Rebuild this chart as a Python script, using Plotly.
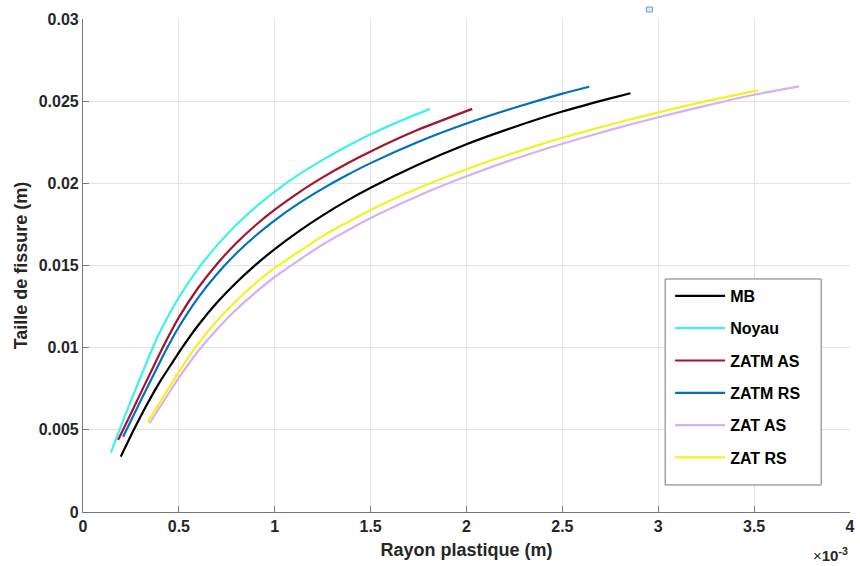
import plotly.graph_objects as go

# Rayon plastique in units of 1e-3 m, taille de fissure in m
mb_x = [0.197, 0.265, 0.33, 0.40, 0.455, 0.511, 0.60, 0.70, 0.80, 0.90, 1.00,
        1.125, 1.25, 1.375, 1.50, 1.75, 2.00, 2.25, 2.50, 2.75, 2.855]
mb_y = [0.00337, 0.0050, 0.00646, 0.0079, 0.0089, 0.0099, 0.01135, 0.01276,
        0.01397, 0.01504, 0.0160, 0.01708, 0.01805, 0.01893, 0.01973, 0.02115,
        0.02238, 0.02343, 0.02437, 0.02517, 0.02548]

noyau_x = [0.145, 0.20, 0.25, 0.30, 0.363, 0.40, 0.50, 0.60, 0.70, 0.80, 0.90,
           1.00, 1.125, 1.25, 1.375, 1.50, 1.65, 1.81]
noyau_y = [0.00361, 0.00529, 0.00677, 0.0082, 0.00998, 0.01092, 0.01306, 0.01479,
           0.01624, 0.01748, 0.01855, 0.0195, 0.02053, 0.02143, 0.02224, 0.02298,
           0.02377, 0.02453]

zatm_as_x = [0.183, 0.25, 0.30, 0.35, 0.409, 0.50, 0.60, 0.70, 0.80, 0.90, 1.00,
             1.125, 1.25, 1.375, 1.50, 1.75, 2.03]
zatm_as_y = [0.00438, 0.0060, 0.00722, 0.00843, 0.00985, 0.01184, 0.01363, 0.01511,
             0.01637, 0.01745, 0.0184, 0.01944, 0.02036, 0.02119, 0.02194, 0.02327,
             0.02453]

zatm_rs_x = [0.209, 0.26, 0.31, 0.37, 0.44, 0.50, 0.60, 0.70, 0.80, 0.90, 1.00,
             1.125, 1.25, 1.375, 1.50, 1.75, 2.00, 2.25, 2.50, 2.64]
zatm_rs_y = [0.00458, 0.0058, 0.00699, 0.0084, 0.01001, 0.01126, 0.01303, 0.0145,
             0.01574, 0.01681, 0.01775, 0.01878, 0.01968, 0.02049, 0.02123, 0.02253,
             0.02364, 0.0246, 0.02546, 0.02588]

zat_as_x = [0.347, 0.40, 0.45, 0.50, 0.60, 0.70, 0.80, 0.90, 1.00, 1.25, 1.50,
            1.75, 2.00, 2.25, 2.50, 2.75, 3.00, 3.25, 3.50, 3.735]
zat_as_y = [0.0054, 0.00636, 0.00727, 0.00817, 0.00978, 0.01114, 0.01233, 0.01337,
            0.0143, 0.01628, 0.01789, 0.01925, 0.02043, 0.02148, 0.02241, 0.02325,
            0.02402, 0.02473, 0.02539, 0.0259]

zat_rs_x = [0.337, 0.40, 0.45, 0.50, 0.60, 0.70, 0.80, 0.90, 1.00, 1.25, 1.50,
            1.75, 2.00, 2.25, 2.50, 2.75, 3.00, 3.25, 3.52]
zat_rs_y = [0.00548, 0.00666, 0.0076, 0.00853, 0.01023, 0.01165, 0.01286, 0.01392,
            0.01485, 0.01679, 0.01838, 0.01971, 0.02086, 0.02187, 0.02277, 0.02358,
            0.02432, 0.025, 0.02566]

series_names = ["MB", "Noyau", "ZATM AS", "ZATM RS", "ZAT AS", "ZAT RS"]
series_colors = ["#000000", "#3ff0f2", "#a2142f", "#0072bd", "#d6b0f2", "#f5f020"]

x_ticks = [0, 0.5, 1, 1.5, 2, 2.5, 3, 3.5, 4]
x_tick_text = ["0", "0.5", "1", "1.5", "2", "2.5", "3", "3.5", "4"]
y_ticks = [0, 0.005, 0.01, 0.015, 0.02, 0.025, 0.03]
y_tick_text = ["0", "0.005", "0.01", "0.015", "0.02", "0.025", "0.03"]

FONT = "Liberation Sans"
AXIS_GREY = "#767676"

fig = go.Figure()
series = [(mb_x, mb_y), (noyau_x, noyau_y), (zatm_as_x, zatm_as_y),
          (zatm_rs_x, zatm_rs_y), (zat_as_x, zat_as_y), (zat_rs_x, zat_rs_y)]
for (xs, ys), name, color in zip(series, series_names, series_colors):
    fig.add_trace(go.Scatter(
        x=xs, y=ys, name=name, mode="lines",
        line=dict(color=color, width=2.2, shape="spline", smoothing=0.5),
        legendgroup=name,
    ))

fig.update_layout(
    width=860, height=566,
    margin=dict(l=83, r=5, t=19, b=54),
    paper_bgcolor="white", plot_bgcolor="white",
    font=dict(family=FONT, color="#262626"),
    showlegend=True,
    legend=dict(
        x=0.7655, y=0.4726, xanchor="left", yanchor="top",
        bgcolor="rgba(0,0,0,0)", borderwidth=0,
        font=dict(family=FONT, size=16, color="black", weight="bold"),
        tracegroupgap=8.5, itemwidth=50,
    ),
    xaxis=dict(
        range=[0, 4], tickvals=x_ticks, ticktext=x_tick_text,
        showline=True, linecolor=AXIS_GREY, linewidth=1.2,
        ticks="inside", ticklen=6, tickcolor=AXIS_GREY,
        showgrid=True, gridcolor="#e3e3e3", gridwidth=1, zeroline=False,
        tickfont=dict(family=FONT, size=16, color="#262626", weight="bold"),
        title=dict(text="Rayon plastique (m)", standoff=9,
                   font=dict(family=FONT, size=18, color="#262626", weight="bold")),
    ),
    yaxis=dict(
        range=[0, 0.03], tickvals=y_ticks, ticktext=y_tick_text,
        showline=True, linecolor=AXIS_GREY, linewidth=1.2,
        ticks="inside", ticklen=6, tickcolor=AXIS_GREY,
        showgrid=True, gridcolor="#e3e3e3", gridwidth=1, zeroline=False,
        tickfont=dict(family=FONT, size=16, color="#262626", weight="bold"),
        title=dict(text="Taille de fissure (m)", standoff=6,
                   font=dict(family=FONT, size=18, color="#262626", weight="bold")),
    ),
)

# legend frame
fig.add_shape(
    type="rect", xref="paper", yref="paper", layer="above",
    x0=0.759, x1=0.9624, y0=0.0548, y1=0.4726,
    line=dict(color=AXIS_GREY, width=1), fillcolor="white",
)

# axis exponent below the right end of the x axis
fig.add_annotation(
    xref="paper", yref="paper", x=1.0, y=-0.087, xanchor="right", yanchor="middle",
    text="×<b>10<sup>-3</sup></b>", showarrow=False,
    font=dict(family=FONT, size=15, color="#262626"),
)

# small selection handle above the axes
fig.add_shape(
    type="rect", xref="paper", yref="paper",
    x0=0.7345, x1=0.7425, y0=1.0142, y1=1.0243,
    line=dict(color="#6f9fd0", width=1), fillcolor="#dce8f5",
)

fig.write_html("out.html")
